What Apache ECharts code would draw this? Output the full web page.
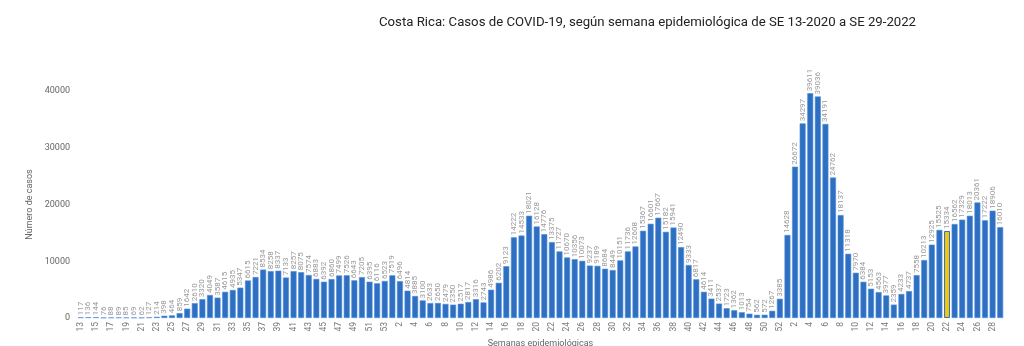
<!DOCTYPE html>
<html>
<head>
<meta charset="utf-8">
<script src="https://cdn.jsdelivr.net/npm/echarts@6/dist/echarts.min.js"></script>
<style>
html,body{margin:0;padding:0;background:#fff;}
#c{width:1024px;height:346px;}
</style>
</head>
<body>
<div id="c"></div>
<script>
const years2020 = [13,14,15,16,17,18,19,20,21,22,23,24,25,26,27,28,29,30,31,32,33,34,35,36,37,38,39,40,41,42,43,44,45,46,47,48,49,50,51,52,53];
const cases2020 = [117,136,144,76,88,89,85,69,62,127,214,398,464,859,1642,2610,3320,4049,3587,4615,4935,5347,6615,7221,8534,8258,8337,7133,8257,8075,7574,6883,6392,6860,7499,7526,6643,7205,6395,6116,6523];
const weeks2021 = [1,2,3,4,5,6,7,8,9,10,11,12,13,14,15,16,17,18,19,20,21,22,23,24,25,26,27,28,29,30,31,32,33,34,35,36,37,38,39,40,41,42,43,44,45,46,47,48,49,50,51,52];
const cases2021 = [7519,6496,4814,3885,3100,2633,2650,2479,2350,2517,2817,3316,2743,4986,6202,9123,14222,14533,18021,16128,14776,13375,11727,10670,10356,10073,9237,9189,8684,8449,10151,11736,12608,15367,16601,17667,15182,15941,12490,9333,6817,4614,3411,2537,1723,1362,1013,754,562,572,1267,3385];
const weeks2022 = [1,2,3,4,5,6,7,8,9,10,11,12,13,14,15,16,17,18,19,20,21,22,23,24,25,26,27,28,29];
const cases2022 = [14628,26672,34297,39611,39036,34191,24762,18137,11318,7970,6384,5153,4563,3977,2359,4233,4737,7558,10213,12925,15525,15334,16562,17329,18013,20361,17222,18906,16010];
const highlightKey = '2022-22';
const yTicks = [0,10000,20000,30000,40000];

const cats = [], vals = [];
years2020.forEach((w,i)=>{cats.push('2020-'+w); vals.push(cases2020[i]);});
weeks2021.forEach((w,i)=>{cats.push('2021-'+w); vals.push(cases2021[i]);});
weeks2022.forEach((w,i)=>{cats.push('2022-'+w); vals.push(cases2022[i]);});

const data = vals.map((v,i)=>{
  if (cats[i]===highlightKey) return {value:v, itemStyle:{color:'#F2C80F', borderColor:'#2F6FC2', borderWidth:1}};
  return v;
});

const chart = echarts.init(document.getElementById('c'));
chart.setOption({
  animation:false,
  title:{
    text:'Costa Rica: Casos de COVID-19, según semana epidemiológica de SE 13-2020 a SE 29-2022',
    left:374, top:11,
    textStyle:{fontFamily:'Roboto', fontSize:13.2, fontWeight:'normal', color:'#222'}
  },
  grid:{left:77, right:20, top:91, bottom:28, containLabel:false, outerBoundsMode:'none'},
  xAxis:{
    type:'category', data:cats,
    name:'Semanas epidemiológicas', nameLocation:'middle', nameGap:18,
    nameTextStyle:{fontFamily:'Roboto', fontSize:9, color:'#666'},
    axisLine:{show:false}, axisTick:{show:false},
    axisLabel:{interval:1, rotate:90, fontSize:8.5, fontFamily:'Roboto', color:'#777', margin:4,
      formatter:(v)=>v.split('-')[1]}
  },
  yAxis:{
    type:'value', min:0, max:40000, interval:10000,
    name:'Número de casos', nameLocation:'middle', nameGap:31, nameRotate:90,
    nameTextStyle:{fontFamily:'Roboto', fontSize:9, color:'#666'},
    axisLine:{show:false}, axisTick:{show:false}, splitLine:{show:false},
    axisLabel:{fontFamily:'Roboto', fontSize:9, color:'#666', margin:7,
      formatter:(v)=>yTicks.includes(v)?String(v):''}
  },
  series:[{
    type:'bar', data:data, barCategoryGap:'22%',
    itemStyle:{color:'#2F6FC2', borderColor:'#4A8FDB', borderWidth:0.6},
    label:{show:true, position:'top', rotate:90, align:'left', verticalAlign:'middle', distance:2,
      fontFamily:'Roboto', fontSize:8, color:'#999'}
  }]
});
</script>
</body>
</html>
